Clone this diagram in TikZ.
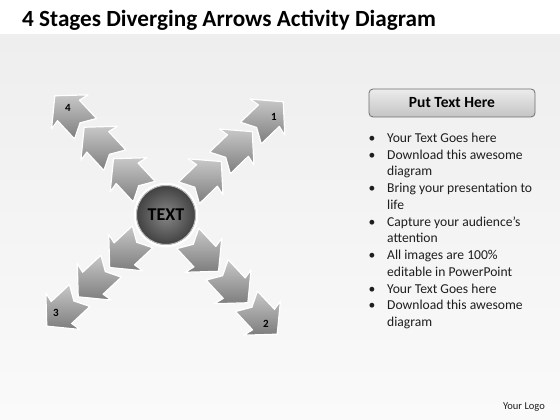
\documentclass[tikz,border=0pt]{standalone}
\usepackage{fontspec}
\setmainfont{Carlito}
\usetikzlibrary{calc}
\definecolor{bgtop}{RGB}{238,238,238}
\definecolor{bgbot}{RGB}{250,250,250}
\definecolor{arrowlight}{RGB}{200,200,200}
\definecolor{arrowdark}{RGB}{125,125,125}
\definecolor{ballin}{RGB}{135,135,135}
\definecolor{ballout}{RGB}{62,62,62}
\definecolor{hdrtop}{RGB}{236,236,236}
\definecolor{hdrbot}{RGB}{196,196,196}
\definecolor{hdrline}{RGB}{110,110,110}
\definecolor{txt}{RGB}{30,30,30}
\tikzset{
  chev/.style={draw=white, line width=1.2pt, line join=round, top color=arrowlight, bottom color=arrowdark},
  chevron/.pic={\path[chev] (0,0) -- (-22,25) -- (-20,15) -- (-45,15) -- (-37,0) -- (-45,-15) -- (-20,-15) -- (-22,-25) -- cycle;},
  numlbl/.style={font=\bfseries\fontsize{11}{13}\selectfont, text=black, inner sep=0pt},
  bul/.style={anchor=base, inner sep=0pt, font=\fontsize{13.6}{16}\selectfont, text=txt},
  line/.style={anchor=base west, inner sep=0pt, font=\fontsize{13.6}{16}\selectfont, text=txt},
}
\begin{document}
\begin{tikzpicture}[x=1pt,y=1pt]
\useasboundingbox (0,0) rectangle (560,420);
\fill[white] (0,0) rectangle (560,420);
\shade[top color=bgtop, bottom color=bgbot] (0,0) rectangle (560,385);
% title
\node[anchor=base west, inner sep=0pt, font=\bfseries\fontsize{23.2}{27}\selectfont] (title) at (22,393) {4 Stages Diverging Arrows Activity Diagram};
% arms
\coordinate (C) at (166,205);
\foreach \a in {44,-47,223,133}{
  \foreach \d in {77,120,163}{
    \pic[rotate=\a] at ($(C)+(\a:\d)$) {chevron};
  }
}
% center ball
\node[circle, minimum size=62pt, inner sep=0pt, draw=white, line width=2.5pt, inner color=ballin, outer color=ballout] (center) at (C) {};
\draw[gray!55, line width=1pt] (C) circle (29.5);
\node[font=\bfseries\fontsize{18}{20}\selectfont, text=black] (ctext) at (C) {TEXT};
% numbers
\node[numlbl] (n1) at (274,303) {1};
\node[numlbl] (n2) at (266,96) {2};
\node[numlbl] (n3) at (56,107) {3};
\node[numlbl] (n4) at (68,312) {4};
% header box
\node[rounded corners=4pt, minimum width=166pt, minimum height=28pt, top color=hdrtop, bottom color=hdrbot, draw=hdrline, line width=0.8pt, font=\bfseries\fontsize{15.5}{18}\selectfont, text=black] (hdr) at (452,317) {Put Text Here};
% bullets
\node[bul] (b1) at (372,277.5) {•};
\node[line] (l1) at (387,277.5) {Your Text Goes here};
\node[bul] (b2) at (372,260.75) {•};
\node[line] (l2) at (387,260.75) {Download this awesome};
\node[line] (l3) at (387,244) {diagram};
\node[bul] (b3) at (372,227.25) {•};
\node[line] (l4) at (387,227.25) {Bring your presentation to};
\node[line] (l5) at (387,210.5) {life};
\node[bul] (b4) at (372,193.75) {•};
\node[line] (l6) at (387,193.75) {Capture your audience’s};
\node[line] (l7) at (387,177) {attention};
\node[bul] (b5) at (372,160.25) {•};
\node[line] (l8) at (387,160.25) {All images are 100\%};
\node[line] (l9) at (387,143.5) {editable in PowerPoint};
\node[bul] (b6) at (372,126.75) {•};
\node[line] (l10) at (387,126.75) {Your Text Goes here};
\node[bul] (b7) at (372,110) {•};
\node[line] (l11) at (387,110) {Download this awesome};
\node[line] (l12) at (387,93.25) {diagram};
% logo
\node[anchor=base, inner sep=0pt, font=\fontsize{10.5}{12}\selectfont, text=txt] (logo) at (524,10) {Your Logo};
\end{tikzpicture}
\end{document}
